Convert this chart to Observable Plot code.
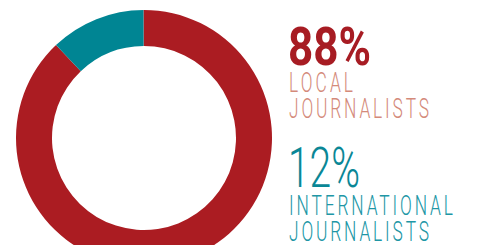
<!DOCTYPE html>
<html><head><meta charset="utf-8">
<script src="https://cdn.jsdelivr.net/npm/d3@7"></script>
<script src="https://cdn.jsdelivr.net/npm/@observablehq/plot@0.6"></script>
<style>
html,body{margin:0;padding:0;background:#fff;overflow:hidden}
#chart{position:relative;width:483px;height:245px}
#chart svg{display:block;overflow:visible}
</style></head><body><div id="chart"></div>
<script>
const categories = ["Local journalists", "International journalists"];
const shares = [88, 12];
const percentLabels = ["88%", "12%"];
const nameLines = [["LOCAL", "JOURNALISTS"], ["INTERNATIONAL", "JOURNALISTS"]];
const sliceColors = ["#ab1c22", "#008593"];
const percentColors = ["#a71c23", "#0a8796"];
const nameColors = ["#d48a7a", "#2096a5"];

const data = categories.map((c, i) => ({category: c, share: shares[i]}));
const color = d3.scaleOrdinal(categories, sliceColors);

// layout
const cx = 144, cy = 138, rOuter = 128, rInner = 92;
const start = -0.004;

function donut() {
  const pie = d3.pie().value(d => d.share).sort(null).startAngle(start).endAngle(2 * Math.PI + start);
  const arc = d3.arc().innerRadius(rInner).outerRadius(rOuter);
  const g = d3.create("svg:g").attr("transform", `translate(${cx},${cy})`);
  g.selectAll("path").data(pie(data)).join("path")
    .attr("d", arc).attr("fill", d => color(d.data.category));
  return g.node();
}

const svg = Plot.plot({
  width: 483, height: 245, margin: 0,
  style: {background: "#fff", overflow: "visible"},
  marks: [donut]
});

const layer = d3.select(svg).append("g")
  .attr("font-family", "Roboto, 'Noto Sans', 'DejaVu Sans', sans-serif")
  .attr("text-anchor", "start");
function addText(str, x, y, size, weight, fill, width, sx, adjust) {
  layer.append("text")
    .attr("transform", `translate(${x},${y}) scale(${sx},1)`)
    .attr("text-anchor", "start")
    .attr("font-size", size).attr("font-weight", weight).attr("fill", fill)
    .attr("textLength", width / sx).attr("lengthAdjust", adjust)
    .text(str);
}
const blocks = [
  {pct: {y: 65, size: 53, weight: 700, w: 83}, lines: [{y: 92, w: 64}, {y: 118, w: 140}]},
  {pct: {y: 187, size: 56, weight: 300, w: 72}, lines: [{y: 215, w: 164}, {y: 241, w: 140}]}
];
blocks.forEach((b, i) => {
  addText(percentLabels[i], 288, b.pct.y, b.pct.size, b.pct.weight, percentColors[i], b.pct.w, 1, "spacingAndGlyphs");
  b.lines.forEach((l, j) => addText(nameLines[i][j], 289, l.y, 28, 300, nameColors[i], l.w, 0.62, "spacing"));
});

document.getElementById("chart").appendChild(svg);
</script></body></html>
